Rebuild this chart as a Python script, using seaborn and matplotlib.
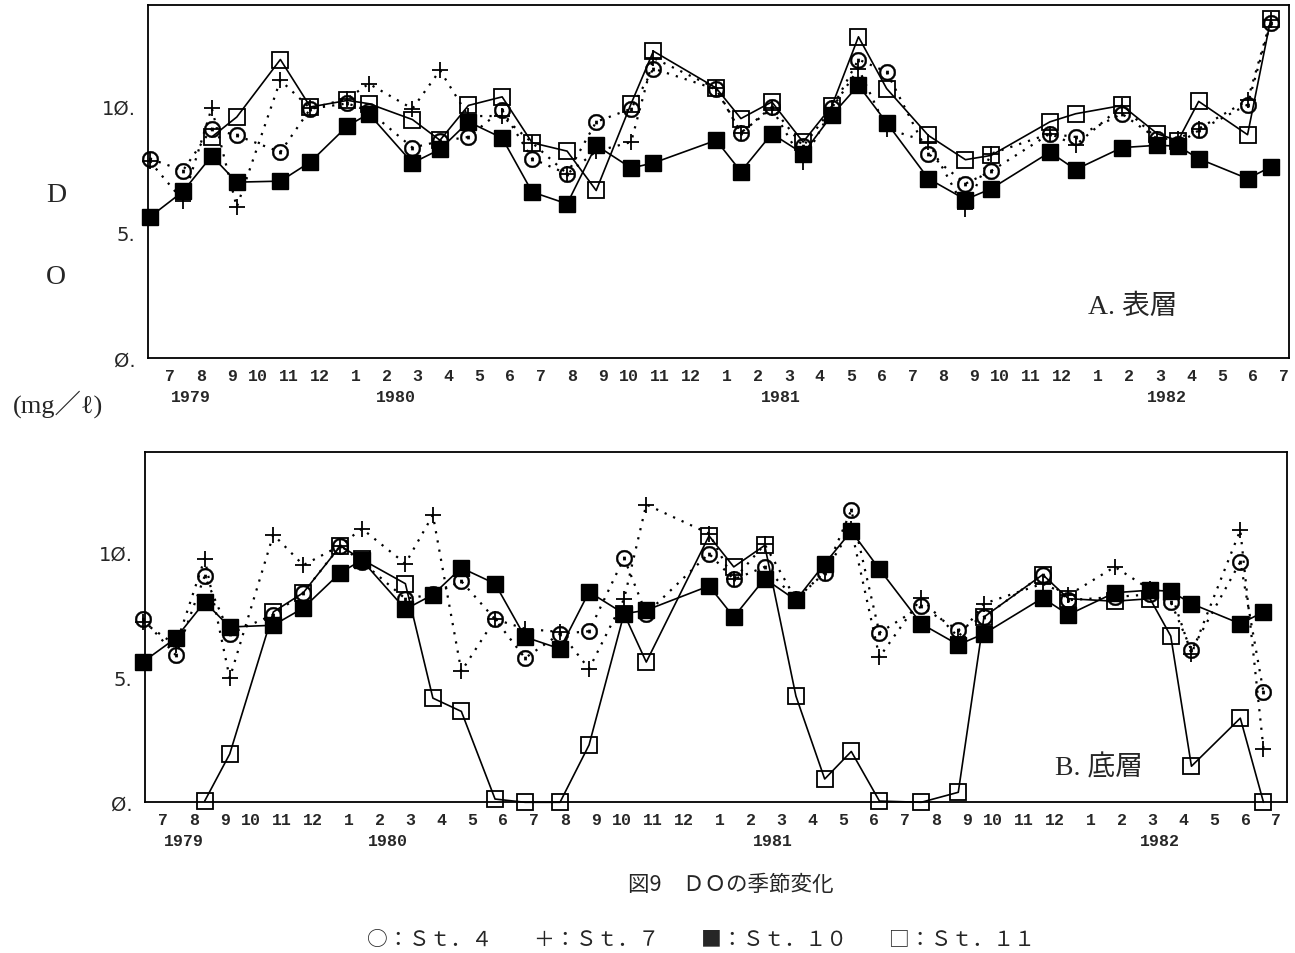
import matplotlib
matplotlib.use("Agg")
import matplotlib.pyplot as plt
import matplotlib.transforms as mtransforms
import numpy as np
import pandas as pd
import seaborn as sns

# ---------------- data ----------------
# sampling dates in months after July 1979 (tick k = month k)
sample_month = [-0.94, 0.13, 1.06, 1.87, 3.28, 4.25, 5.45, 6.14, 7.55, 8.44,
                9.36, 10.45, 11.42, 12.55, 13.49, 14.62, 15.34, 17.37, 18.17, 19.17,
                20.18, 21.11, 21.97, 22.88, 24.23, 25.43, 26.26, 28.16, 28.99, 30.49,
                31.63, 32.30, 32.97, 34.55, 35.30]

month_labels = ["7", "8", "9", "10", "11", "12",
                "1", "2", "3", "4", "5", "6", "7", "8", "9", "10", "11", "12",
                "1", "2", "3", "4", "5", "6", "7", "8", "9", "10", "11", "12",
                "1", "2", "3", "4", "5", "6", "7"]
year_labels = ["1979", "1980", "1981", "1982"]
year_pos = [0.4, 7.0, 19.45, 31.95]

y_tick_labels = {0: "Ø.", 5: "5.", 10: "1Ø."}

# A. surface layer
A_st4 = [7.91, 7.44, 9.10, 8.83, 8.17, 9.89, 10.1, 9.8, 8.35, 8.60,
         8.77, 9.85, 7.91, 7.31, 9.37, 9.89, 11.48, 10.66, 8.94, 9.96,
         8.4, 9.9, 11.84, 11.35, 8.11, 6.92, 7.42, 8.90, 8.77, 9.69,
         8.7, 8.5, 9.03, 10.05, 13.3]
A_st7 = [7.8, 6.25, 9.92, 5.99, 11.02, 9.9, 10.29, 10.88, 9.89, 11.41,
         9.6, 9.6, 8.54, 7.31, 8.2, 8.57, 11.9, 10.7, 8.94, 9.9,
         7.78, 9.9, 11.48, 9.1, 8.57, 5.9, 8.11, 8.9, 8.45, 10.0,
         8.7, 8.7, 9.1, 10.22, 13.4]
A_st10 = [5.60, 6.61, 8.02, 6.98, 7.02, 7.78, 9.21, 9.69, 7.74, 8.28,
          9.37, 8.73, 6.59, 6.12, 8.44, 7.54, 7.74, 8.64, 7.40, 8.90,
          8.11, 9.63, 10.82, 9.34, 7.12, 6.29, 6.72, 8.17, 7.48, 8.35,
          8.44, 8.41, 7.91, 7.12, 7.58]
A_st11 = [None, None, 8.77, 9.56, 11.84, 9.96, 10.22, 10.09, 9.46, 8.64,
          10.02, 10.36, 8.54, 8.21, 6.65, 10.09, 12.17, 10.71, 9.50, 10.16,
          8.57, 10.0, 12.74, 10.69, 8.83, 7.87, 8.04, 9.37, 9.69, 10.02,
          8.90, 8.62, 10.18, 8.86, 13.44]

# B. bottom layer
B_st4 = [7.33, 5.87, 9.04, 6.73, 7.49, 8.37, 10.25, 9.6, 8.13, 8.3,
         8.83, 7.31, 5.76, 6.73, 6.83, 9.76, 7.53, 9.93, 8.9, 9.4,
         8.1, 9.17, 11.67, 6.77, 7.82, 6.87, 7.4, 9.09, 8.07, 8.2,
         8.3, 8.0, 6.07, 9.6, 4.4]
B_st7 = [7.2, 6.27, 9.73, 4.96, 10.69, 9.47, 10.25, 10.93, 9.53, 11.47,
         5.23, 7.31, 6.93, 6.8, 5.33, 8.11, 11.89, 10.73, 8.9, 10.3,
         8.1, 9.2, 10.9, 5.8, 8.15, 6.6, 7.93, 8.73, 8.27, 9.4,
         8.5, 8.4, 5.93, 10.87, 2.13]
B_st10 = [5.60, 6.56, 8.0, 7.0, 7.07, 7.76, 9.17, 9.67, 7.71, 8.29,
          9.36, 8.73, 6.60, 6.13, 8.40, 7.53, 7.67, 8.64, 7.40, 8.93,
          8.07, 9.53, 10.83, 9.31, 7.13, 6.29, 6.73, 8.16, 7.49, 8.37,
          8.47, 8.43, 7.93, 7.13, 7.6]
B_st11 = [None, None, 0.05, 1.93, 7.6, 8.37, 10.24, 9.7, 8.73, 4.16,
          3.63, 0.13, 0.0, 0.0, 2.29, 7.53, 5.6, 10.64, 9.4, 10.26,
          4.24, 0.93, 2.03, 0.05, 0.0, 0.4, 7.4, 9.09, 8.13, 8.03,
          8.13, 6.64, 1.44, 3.36, 0.0]

# ---------------- style ----------------
sns.set_theme(style="white")
plt.rcParams["font.family"] = ["Liberation Serif", "Noto Sans CJK JP", "DejaVu Sans"]
plt.rcParams["axes.linewidth"] = 1.3

W, H = 1295, 954
fig = plt.figure(figsize=(W / 100, H / 100), dpi=100)
fig.patch.set_facecolor("white")

def frac_axes(left, top, right, bottom):
    return fig.add_axes([left / W, 1 - bottom / H, (right - left) / W, (bottom - top) / H])

axA = frac_axes(148, 6, 1289, 359.3)
axB = frac_axes(145, 452.7, 1287, 803.3)

series_style = {
    "St.4": dict(marker=r"$\odot$", markersize=12, linestyle=(0, (1, 3.2)), linewidth=1.6,
                 markerfacecolor="black", markeredgecolor="black", markeredgewidth=0.3),
    "St.7": dict(marker="+", markersize=12, linestyle=(0, (1, 3.2)), linewidth=1.6,
                 markerfacecolor="black", markeredgecolor="black", markeredgewidth=1.3),
    "St.10": dict(marker="s", markersize=11, linestyle="-", linewidth=1.2,
                  markerfacecolor="black", markeredgecolor="black", markeredgewidth=1.0),
    "St.11": dict(marker="s", markersize=11, linestyle="-", linewidth=1.2,
                  markerfacecolor="none", markeredgecolor="black", markeredgewidth=1.3),
}

def draw_panel(ax, series, xlim, label, label_xy):
    for name, vals in series:
        df = pd.DataFrame({"month": sample_month,
                           "DO": [np.nan if v is None else v for v in vals]}).dropna()
        sns.lineplot(data=df, x="month", y="DO", ax=ax, sort=False, estimator=None,
                     color="black", legend=False, clip_on=False, **series_style[name])
    ax.set_xlim(*xlim)
    ax.set_ylim(0, 14)
    ax.set_xlabel("")
    ax.set_ylabel("")
    ax.set_xticks(range(0, 36))
    ax.set_xticklabels([])
    ax.set_yticks(range(0, 14))
    ax.set_yticklabels([y_tick_labels.get(v, "") for v in range(0, 14)],
                       family="DejaVu Sans", fontsize=14)
    ax.tick_params(axis="both", direction="in", length=6, width=1.1, color="black")
    ax.tick_params(axis="y", pad=9)
    for sp in ax.spines.values():
        sp.set_visible(True)
        sp.set_color("black")
    trans = mtransforms.blended_transform_factory(ax.transData, ax.transAxes)
    for j, lab in enumerate(month_labels):
        ax.text(j - 0.12, -0.048, lab, transform=trans, ha="right", va="center",
                fontsize=12, fontweight="bold", family="Liberation Mono")
    for yp, ylab in zip(year_pos, year_labels):
        ax.text(yp, -0.108, ylab, transform=trans, ha="center", va="center",
                fontsize=12, fontweight="bold", family="Liberation Mono")
    ax.text(label_xy[0], label_xy[1], label, transform=ax.transAxes, ha="left",
            va="center", fontsize=20,
            family=["Liberation Serif", "Noto Sans CJK JP"])

draw_panel(axA, [("St.4", A_st4), ("St.7", A_st7), ("St.11", A_st11), ("St.10", A_st10)],
           (-1.0, 35.89), "A. 表層", (0.824, 0.147))
draw_panel(axB, [("St.4", B_st4), ("St.7", B_st7), ("St.11", B_st11), ("St.10", B_st10)],
           (-0.87, 36.06), "B. 底層", (0.797, 0.10))

# y-axis title
fig.text(56 / W, 1 - 196 / H, "D", ha="center", va="center", fontsize=20,
         family="Liberation Serif")
fig.text(56 / W, 1 - 278 / H, "O", ha="center", va="center", fontsize=20,
         family="Liberation Serif")
fig.text(58 / W, 1 - 404 / H, "(mg／ℓ)", ha="center", va="center", fontsize=19,
         family=["Liberation Serif", "Noto Sans CJK JP", "DejaVu Sans"])

# caption and legend
fig.text(731 / W, 1 - 885 / H, "図9　ＤＯの季節変化", ha="center", va="center",
         fontsize=15.5, family=["Noto Sans CJK JP", "DejaVu Sans"])
fig.text(701 / W, 1 - 940 / H,
         "○：Ｓｔ．４　　＋：Ｓｔ．７　　■：Ｓｔ．１０　　□：Ｓｔ．１１",
         ha="center", va="center", fontsize=15, family=["Noto Sans CJK JP", "DejaVu Sans"])

fig.savefig("out.png", dpi=100, facecolor="white")
